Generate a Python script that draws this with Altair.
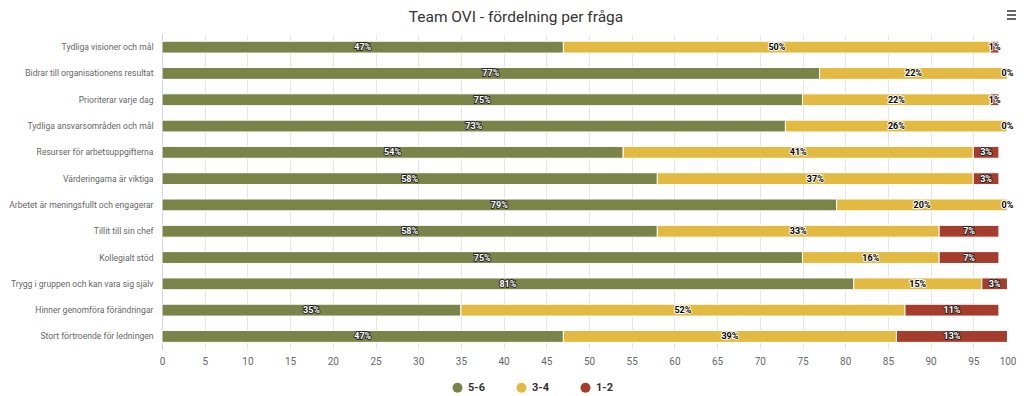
import altair as alt
import pandas as pd

# ---- data ----
questions = [
    "Tydliga visioner och mål",
    "Bidrar till organisationens resultat",
    "Prioriterar varje dag",
    "Tydliga ansvarsområden och mål",
    "Resurser för arbetsuppgifterna",
    "Värderingarna är viktiga",
    "Arbetet är meningsfullt och engagerar",
    "Tillit till sin chef",
    "Kollegialt stöd",
    "Trygg i gruppen och kan vara sig själv",
    "Hinner genomföra förändringar",
    "Stort förtroende för ledningen",
]
high = [47, 77, 75, 73, 54, 58, 79, 58, 75, 81, 35, 47]   # 5-6
mid = [50, 22, 22, 26, 41, 37, 20, 33, 16, 15, 52, 39]    # 3-4
low = [1, 0, 1, 0, 3, 3, 0, 7, 7, 3, 11, 13]              # 1-2
series = ["5-6", "3-4", "1-2"]
colors = ["#7a8449", "#e3ba41", "#a63d2c"]
x_ticks = list(range(0, 101, 5))
title_text = ["Team OVI - fördelning per fråga"]

rows = []
for q, a, b, c in zip(questions, high, mid, low):
    for k, (s, v) in enumerate(zip(series, [a, b, c])):
        rows.append({"question": q, "series": s, "value": v, "order": k})
df = pd.DataFrame(rows)

FONT = "Roboto"
W, H = 854, 315.6

y_enc = alt.Y(
    "question:N",
    sort=questions,
    scale=alt.Scale(paddingInner=0.55, paddingOuter=0.275),
    axis=alt.Axis(
        title=None, domainColor="#ccd6eb", ticks=False, grid=False,
        labelPadding=9, labelFontSize=8.6, labelColor="#666666",
        labelFont=FONT, labelLimit=400,
    ),
)
x_scale = alt.Scale(domain=[0, 100], nice=False)

base = alt.Chart(df)

bars = base.mark_bar(stroke="white", strokeWidth=1).encode(
    x=alt.X(
        "value:Q", stack="zero", scale=x_scale,
        axis=alt.Axis(
            values=x_ticks, title=None, domain=False, ticks=False, grid=True,
            gridColor="#e6e6e6", labelFontSize=10, labelColor="#666666",
            labelFont=FONT, labelPadding=7, labelFlush=False,
            labelAlign=alt.ExprRef(expr="datum.value == 100 ? 'right' : 'center'"),
            labelBound=False, labelOverlap=False,
        ),
    ),
    y=y_enc,
    color=alt.Color(
        "series:N",
        scale=alt.Scale(domain=series, range=colors),
        legend=alt.Legend(
            title=None, orient="none", legendX=290, legendY=348,
            direction="horizontal", symbolType="circle", symbolSize=100,
            symbolStrokeWidth=0, labelFontSize=11, labelFontWeight="bold",
            labelFont=FONT, labelColor="#333333", columnPadding=31,
            labelOffset=5, padding=0,
        ),
    ),
    order=alt.Order("order:Q"),
)

labels_base = (
    base.transform_stack(
        stack="value", groupby=["question"], as_=["v0", "v1"],
        sort=[alt.SortField("order")],
    )
    .transform_calculate(
        mid="(datum.v0 + datum.v1) / 2",
        label="format(datum.value, 'd') + '%'",
        tcolor="(datum.series == '3-4' || datum.value < 2) ? '#000000' : '#ffffff'",
        ocolor="(datum.series == '3-4' || datum.value < 2) ? '#ffffff' : '#222222'",
    )
)

outline = labels_base.mark_text(
    fontSize=9, fontWeight="bold", font=FONT, strokeWidth=1.8, strokeJoin="round"
).encode(
    x=alt.X("mid:Q", scale=x_scale),
    y=y_enc,
    text="label:N",
    fill=alt.Fill("ocolor:N", scale=None),
    stroke=alt.Stroke("ocolor:N", scale=None),
)

fill_text = labels_base.mark_text(
    fontSize=9, fontWeight="bold", font=FONT
).encode(
    x=alt.X("mid:Q", scale=x_scale),
    y=y_enc,
    text="label:N",
    fill=alt.Fill("tcolor:N", scale=None),
)

title = alt.Chart(pd.DataFrame({"t": title_text})).mark_text(
    fontSize=15.5, font=FONT, color="#333333", align="center", baseline="top"
).encode(text="t:N", x=alt.value(354), y=alt.value(-24))

# context-menu icon (three short horizontal lines, top right)
icon_layers = [
    alt.Chart(pd.DataFrame({"k": [0]})).mark_rule(
        color="#666666", strokeWidth=2
    ).encode(x=alt.value(845), x2=alt.value(856), y=alt.value(yy))
    for yy in (-23, -19, -15)
]

chart = (
    alt.layer(bars, outline, fill_text, title, *icon_layers)
    .properties(
        width=W, height=H,
        autosize=alt.AutoSizeParams(type="none"),
        padding={"left": 154, "top": 26, "right": 0, "bottom": 46},
        background="white",
    )
    .configure_view(stroke=None)
)

chart.save("out.html", embed_options={"renderer": "svg", "actions": False})
